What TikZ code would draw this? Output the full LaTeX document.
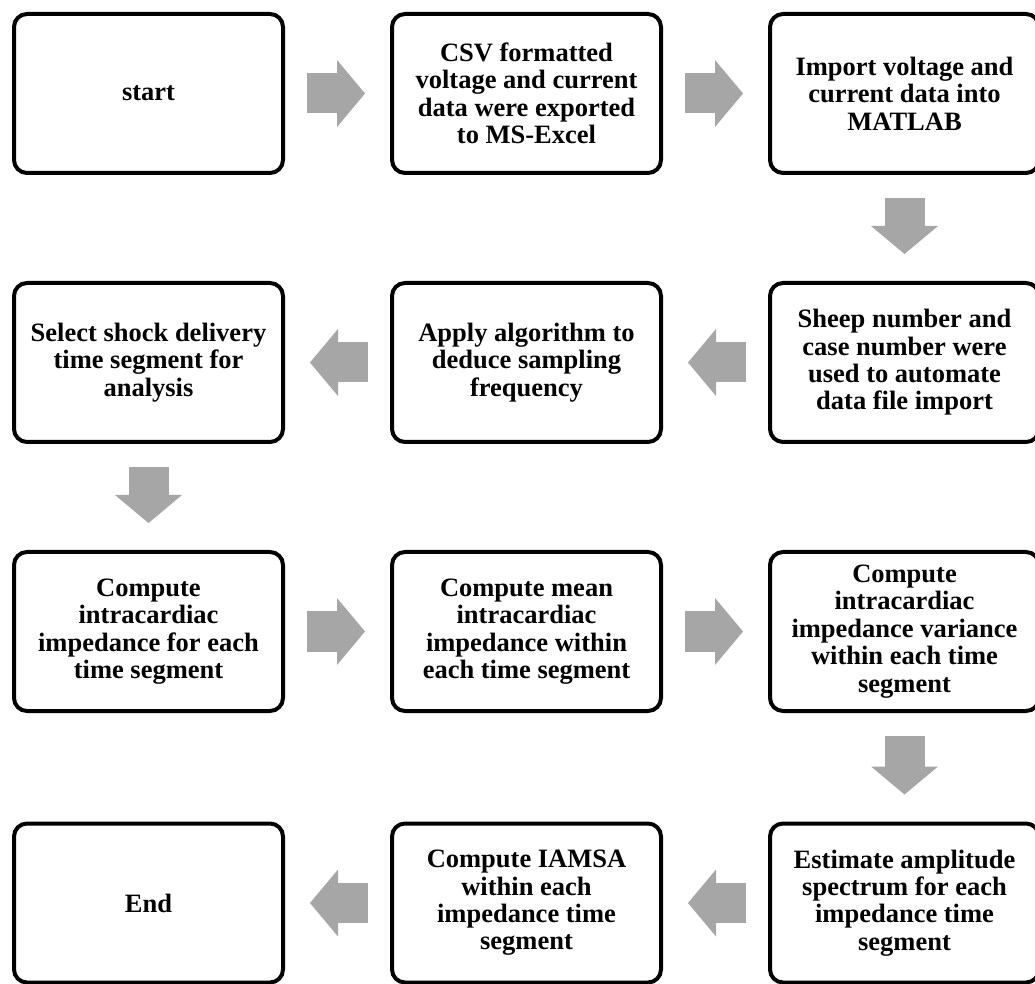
\documentclass[tikz,border=0pt]{standalone}
\usepackage{fontspec}
\setmainfont{Liberation Serif}
\usetikzlibrary{arrows.meta}
\definecolor{arrowgray}{RGB}{166,166,166}

\begin{document}
\begin{tikzpicture}[x=1pt,y=1pt,
    box/.style={draw, line width=4pt, rounded corners=13pt,
        minimum width=269pt, minimum height=159pt, align=center,
        font=\bfseries\fontsize{26.5}{27.4}\selectfont},
    flow/.style={arrowgray, line width=40pt,
        -{Triangle[length=28pt,width=67pt,line width=0pt]}}]
        \useasboundingbox (0,0) rectangle (1035,983);
        % Nodes
        \node[box] (start) at (148.5,889.5) {start};
        \node[box] (csv) at (526.5,889.5) {CSV formatted\\voltage and current\\data were exported\\to MS-Excel};
        \node[box] (import) at (904.5,889.5) {Import voltage and\\current data into\\MATLAB};
        \node[box] (sheep) at (904.5,620.5) {Sheep number and\\case number were\\used to automate\\data file import};
        \node[box] (algo) at (526.5,620.5) {Apply algorithm to\\deduce sampling\\frequency};
        \node[box] (select) at (148.5,620.5) {Select shock delivery\\time segment for\\analysis};
        \node[box] (imped) at (148.5,351.5) {Compute\\intracardiac\\impedance for each\\time segment};
        \node[box] (mean) at (526.5,351.5) {Compute mean\\intracardiac\\impedance within\\each time segment};
        \node[box] (var) at (904.5,351.5) {Compute\\intracardiac\\impedance variance\\within each time\\segment};
        \node[box] (spec) at (904.5,80) {Estimate amplitude\\spectrum for each\\impedance time\\segment};
        \node[box] (iamsa) at (526.5,80) {Compute IAMSA\\within each\\impedance time\\segment};
        \node[box] (end) at (148.5,80) {End};
        % Arrows
        \draw[flow] ([xshift=22pt]start.east) -- ([xshift=-25pt]csv.west);
        \draw[flow] ([xshift=22pt]csv.east) -- ([xshift=-25pt]import.west);
        \draw[flow] ([yshift=-23pt]import.south) -- ([yshift=27pt]sheep.north);
        \draw[flow] ([xshift=-22pt]sheep.west) -- ([xshift=25pt]algo.east);
        \draw[flow] ([xshift=-22pt]algo.west) -- ([xshift=25pt]select.east);
        \draw[flow] ([yshift=-23pt]select.south) -- ([yshift=27pt]imped.north);
        \draw[flow] ([xshift=22pt]imped.east) -- ([xshift=-25pt]mean.west);
        \draw[flow] ([xshift=22pt]mean.east) -- ([xshift=-25pt]var.west);
        \draw[flow] ([yshift=-23pt]var.south) -- ([yshift=27pt]spec.north);
        \draw[flow] ([xshift=-22pt]spec.west) -- ([xshift=25pt]iamsa.east);
        \draw[flow] ([xshift=-22pt]iamsa.west) -- ([xshift=25pt]end.east);

    \end{tikzpicture}
\end{document}
